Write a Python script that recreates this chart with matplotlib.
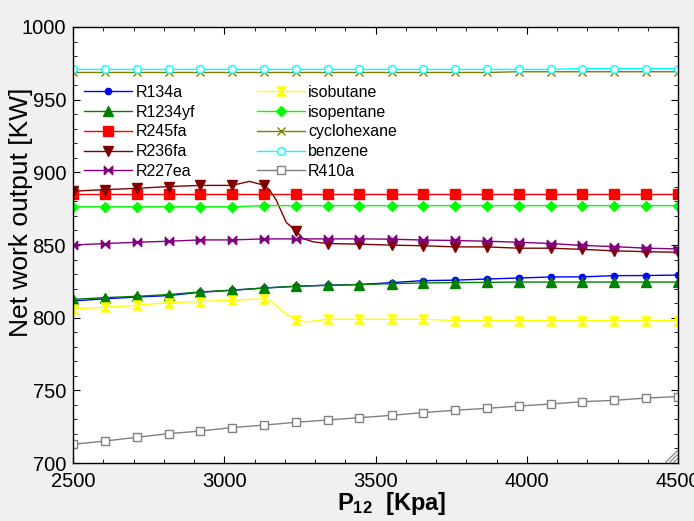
import matplotlib
matplotlib.use('Agg')
import matplotlib.pyplot as plt
from matplotlib.path import Path
from matplotlib.ticker import MultipleLocator
import numpy as np

plt.rcParams['font.family'] = ['Liberation Sans', 'DejaVu Sans']
plt.rcParams['mathtext.fontset'] = 'custom'
plt.rcParams['mathtext.rm'] = 'Liberation Sans'
plt.rcParams['mathtext.bf'] = 'Liberation Sans:bold'

# pressure grid [kPa]
p12 = [2500, 2605, 2711, 2816, 2921, 3026, 3132, 3237, 3342, 3447,
       3553, 3658, 3763, 3868, 3974, 4079, 4184, 4289, 4395, 4500]

# net work output [kW] per working fluid
r134a = [811.5, 813.0, 814.2, 815.2, 817.5, 818.8, 820.4, 821.6, 822.3, 822.8,
         824.1, 825.5, 825.8, 826.6, 827.3, 828.0, 828.1, 828.9, 829.0, 829.3]
r1234yf = [812.6, 813.8, 814.7, 815.9, 817.7, 819.0, 820.4, 821.6, 822.3, 822.8,
           823.4, 823.9, 824.1, 824.3, 824.5, 824.5, 824.5, 824.5, 824.5, 824.5]
r245fa = [885.0, 885.0, 885.0, 885.0, 885.0, 885.0, 885.0, 885.0, 885.0, 885.0,
          885.0, 885.0, 885.0, 885.0, 885.0, 885.0, 885.0, 885.0, 885.0, 885.0]
r236fa = [887.0, 888.1, 889.0, 890.2, 891.0, 891.0, 891.1, 859.7, 851.0, 850.6,
          849.9, 849.5, 848.7, 848.7, 847.8, 847.8, 847.0, 846.0, 845.4, 845.0]
r227ea = [850.0, 851.0, 851.9, 852.6, 853.5, 853.5, 854.2, 854.2, 854.2, 854.2,
          854.0, 853.4, 853.1, 852.6, 851.9, 851.0, 849.7, 848.9, 847.8, 847.3]
isobutane = [806.2, 807.1, 808.5, 810.4, 811.1, 812.0, 812.9, 798.6, 798.9, 798.9,
             798.9, 798.9, 798.0, 798.0, 798.0, 798.0, 798.0, 798.0, 798.0, 798.0]
isopentane = [876.3, 876.3, 876.3, 876.3, 876.3, 876.3, 877.1, 877.1, 877.1, 877.1,
              877.1, 877.1, 877.1, 877.1, 877.1, 877.1, 877.1, 877.1, 877.1, 877.1]
cyclohexane = [968.7, 968.7, 968.7, 968.7, 968.7, 968.7, 968.7, 968.7, 968.7, 968.7,
               968.7, 968.7, 968.7, 968.7, 969.2, 969.2, 969.2, 969.2, 969.2, 969.2]
benzene = [970.8, 970.8, 970.8, 970.8, 970.8, 970.8, 970.8, 970.8, 970.8, 970.8,
           970.8, 970.8, 970.8, 970.8, 970.8, 970.8, 971.4, 971.4, 971.4, 971.4]
r410a = [712.9, 715.1, 717.7, 720.2, 722.0, 724.4, 726.1, 728.0, 729.6, 731.2,
         732.8, 734.7, 736.3, 737.6, 739.2, 740.6, 742.2, 743.1, 744.7, 745.7]

# extra curve points (no marker) where the solution jumps
r236fa_bend_p = [3083, 3151, 3172, 3205, 3260, 3293]
r236fa_bend_w = [893.8, 887.5, 880.8, 865.5, 854.5, 852.2]
isobutane_bend_p = [3160, 3200, 3272]
isobutane_bend_w = [810.5, 803.0, 797.0]

hourglass = Path([(-1, 1), (1, 1), (-1, -1), (1, -1), (-1, 1)])
bowtie = Path([(-1, -1), (-1, 1), (1, -1), (1, 1), (-1, -1)])


def with_bends(p, w, bp, bw):
    x = np.array(list(p) + list(bp), dtype=float)
    y = np.array(list(w) + list(bw), dtype=float)
    order = np.argsort(x, kind='stable')
    marks = [i for i, o in enumerate(order) if o < len(p)]
    return x[order], y[order], marks


fig = plt.figure(figsize=(6.94, 5.21), dpi=100, facecolor='#f0f0f0')
ax = fig.add_axes([0.1052, 0.1113, 0.8718, 0.8369])

lw = 1.0
ax.plot(p12, r134a, color='#0000ff', marker='o', ms=4.5, lw=lw, label='R134a')
ax.plot(p12, r1234yf, color='#008000', marker='^', ms=7, lw=lw, label='R1234yf')
ax.plot(p12, r245fa, color='#ff0000', marker='s', ms=6.5, lw=lw, label='R245fa')
x, y, m = with_bends(p12, r236fa, r236fa_bend_p, r236fa_bend_w)
ax.plot(x, y, color='#800000', marker='v', ms=7, lw=lw, markevery=m, label='R236fa')
ax.plot(p12, r227ea, color='#800080', marker=bowtie, ms=6, lw=lw, label='R227ea')
x, y, m = with_bends(p12, isobutane, isobutane_bend_p, isobutane_bend_w)
ax.plot(x, y, color='#ffff00', marker=hourglass, ms=6.5, lw=lw, markevery=m, label='isobutane')
ax.plot(p12, isopentane, color='#00ff00', marker='D', ms=5, lw=lw, label='isopentane')
ax.plot(p12, cyclohexane, color='#808000', marker='x', ms=6, mew=1.0, lw=lw, label='cyclohexane')
ax.plot(p12, benzene, color='#00ffff', marker='o', ms=5.5, mfc='white', mew=1.0, lw=lw, label='benzene')
ax.plot(p12, r410a, color='#808080', marker='s', ms=6, mfc='white', mew=1.0, lw=lw, label='R410a')

ax.set_xlim(2500, 4500)
ax.set_ylim(700, 1000)
ax.xaxis.set_major_locator(MultipleLocator(500))
ax.xaxis.set_minor_locator(MultipleLocator(100))
ax.yaxis.set_major_locator(MultipleLocator(50))
ax.yaxis.set_minor_locator(MultipleLocator(10))
ax.tick_params(which='both', direction='in', top=True, right=True, labelsize=14.5)
ax.tick_params(which='major', length=5, pad=5)
ax.tick_params(axis='x', which='major', pad=6.5)
ax.tick_params(which='minor', length=3)
for s in ax.spines.values():
    s.set_linewidth(1.0)

ax.set_xlabel('$\\mathbf{P_{12}}$  [Kpa]', fontsize=17, fontweight='bold')
ax.xaxis.set_label_coords(0.526, -0.063)
ax.set_ylabel('Net work output [KW]', fontsize=19)
ax.yaxis.set_label_coords(-0.066, 0.576)

ax.legend(ncol=2, loc='upper left', bbox_to_anchor=(0.0, 0.893), frameon=False,
          fontsize=11.5, handlelength=3.0, handletextpad=0.2, columnspacing=3.9,
          labelspacing=0.3, borderaxespad=0.3)

# resize grip in the lower right corner
w_px, h_px = 605.0, 436.0
for d in (4, 8, 12):
    ax.plot([1 - d / w_px, 1 - 1 / w_px], [1 / h_px, d / h_px], transform=ax.transAxes,
            color='#909090', lw=1.0, clip_on=False)

fig.savefig('out.png', dpi=100, facecolor=fig.get_facecolor())
